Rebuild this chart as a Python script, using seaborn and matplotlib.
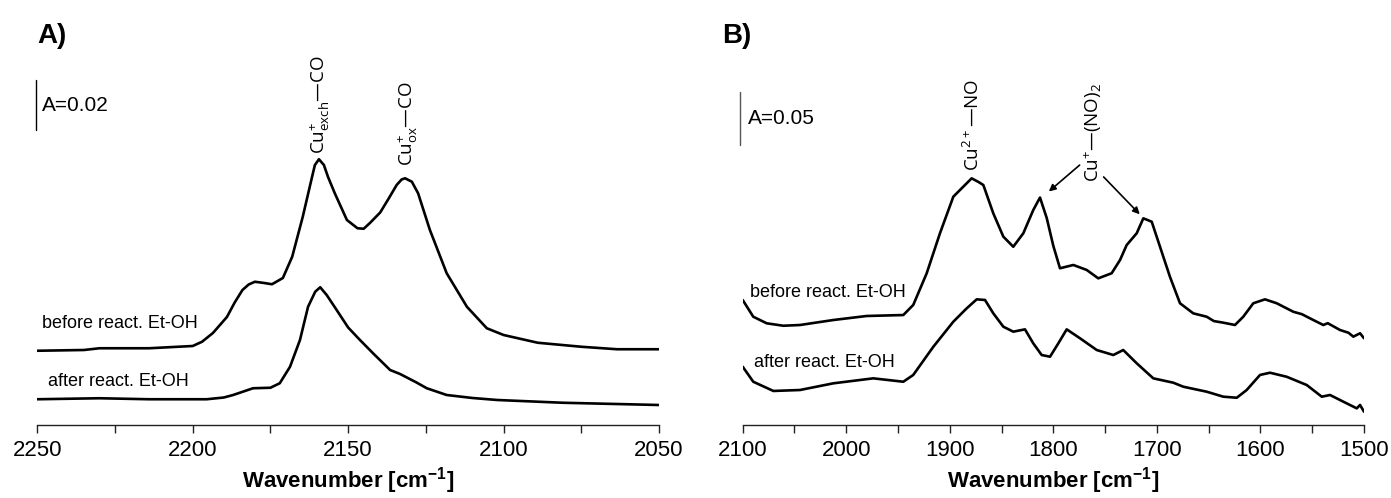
import matplotlib
matplotlib.use("Agg")
import matplotlib.pyplot as plt
from matplotlib import font_manager
from matplotlib.ticker import MultipleLocator
import numpy as np
import pandas as pd
import seaborn as sns

# ---------------- data ----------------
# Panel A: CO adsorption
a_before_wn = [2250, 2235, 2230, 2214, 2200, 2197, 2193.5, 2189, 2186.5, 2184, 2182, 2180, 2177,
               2174.5, 2171, 2168, 2164.6, 2161.6, 2160.7, 2159.4, 2157.8, 2156.5, 2154.3, 2150.4,
               2147, 2145, 2143, 2139.7, 2137, 2134.4, 2132.8, 2131.7, 2129.5, 2127.5, 2123.7,
               2118.3, 2111.8, 2105.4, 2100, 2089, 2075, 2063.5, 2050]
a_before_abs = [0.0297, 0.0300, 0.0307, 0.0307, 0.0316, 0.0333, 0.0368, 0.0432, 0.0490, 0.0540,
                0.0562, 0.0573, 0.0568, 0.0563, 0.0588, 0.0673, 0.0833, 0.0993, 0.1040, 0.1063,
                0.1040, 0.0993, 0.0927, 0.0820, 0.0787, 0.0785, 0.0808, 0.0850, 0.0905, 0.0960,
                0.0982, 0.0987, 0.0973, 0.0927, 0.0780, 0.0607, 0.0473, 0.0387, 0.0360, 0.0329,
                0.0313, 0.0303, 0.0303]

a_after_wn = [2250, 2230, 2214, 2195.5, 2190, 2187, 2180.6, 2175, 2172, 2168.7, 2165.5, 2162.9,
              2160.6, 2159, 2156.9, 2153.7, 2150, 2146.2, 2142, 2136.5, 2133.3, 2128, 2124.7,
              2118.3, 2110, 2102, 2081, 2050]
a_after_abs = [0.0103, 0.0107, 0.0103, 0.0103, 0.0110, 0.0120, 0.0147, 0.0149, 0.0167, 0.0233,
               0.0340, 0.0473, 0.0533, 0.0551, 0.0520, 0.0460, 0.0390, 0.0340, 0.0287, 0.0220,
               0.0204, 0.0170, 0.0147, 0.0120, 0.0108, 0.0100, 0.0089, 0.0080]

# Panel B: NO adsorption
b_before_wn = [2100, 2089.8, 2076.8, 2060.8, 2044.7, 2012.5, 1980.3, 1944.9, 1935.3, 1922.3,
               1909.5, 1896.6, 1887, 1878.9, 1872, 1867.6, 1858, 1848.3, 1838.7, 1829, 1819.4,
               1812.9, 1806.4, 1800, 1793.6, 1780.7, 1767.8, 1756.6, 1743.7, 1735.6, 1729.2,
               1719.5, 1713.1, 1705, 1697, 1687.4, 1677.7, 1664.9, 1651.9, 1645, 1635.9, 1624.6,
               1616.6, 1606.9, 1595.6, 1584.3, 1568.3, 1560, 1552.2, 1539.3, 1535, 1523.2, 1515,
               1510.3, 1503.8, 1500]
b_before_abs = [0.1179, 0.1021, 0.0959, 0.0936, 0.0943, 0.0990, 0.1028, 0.1037, 0.1132, 0.1431,
                0.1808, 0.2153, 0.2247, 0.2326, 0.2290, 0.2263, 0.1996, 0.1776, 0.1681, 0.1808,
                0.2027, 0.2145, 0.1952, 0.1688, 0.1478, 0.1509, 0.1462, 0.1383, 0.1431, 0.1556,
                0.1697, 0.1808, 0.1949, 0.1917, 0.1681, 0.1398, 0.1148, 0.1053, 0.1021, 0.0980,
                0.0965, 0.0943, 0.1021, 0.1148, 0.1185, 0.1148, 0.1068, 0.1045, 0.1006, 0.0943,
                0.0960, 0.0896, 0.0870, 0.0833, 0.0865, 0.0818]

b_after_wn = [2100, 2089.8, 2070.4, 2044.7, 2012.5, 1973.9, 1944.9, 1935.3, 1915.9, 1896.6,
              1883.7, 1874, 1866, 1858, 1848.3, 1838.7, 1827.4, 1819.4, 1811.3, 1803.2, 1795.2,
              1787.1, 1774.3, 1758.1, 1742.1, 1732.5, 1719.5, 1703.5, 1684.2, 1674.5, 1651.9,
              1635.9, 1622.9, 1613.3, 1600.4, 1590.8, 1574.7, 1555.3, 1540.8, 1532.8, 1520,
              1507, 1503.8, 1500]
b_after_abs = [0.0550, 0.0408, 0.0321, 0.0330, 0.0393, 0.0440, 0.0408, 0.0472, 0.0738, 0.0974,
               0.1100, 0.1185, 0.1179, 0.1053, 0.0927, 0.0880, 0.0902, 0.0770, 0.0660, 0.0644,
               0.0770, 0.0902, 0.0818, 0.0707, 0.0660, 0.0707, 0.0582, 0.0440, 0.0399, 0.0361,
               0.0314, 0.0267, 0.0257, 0.0330, 0.0472, 0.0493, 0.0455, 0.0377, 0.0267, 0.0283,
               0.0220, 0.0157, 0.0189, 0.0125]

series_labels = ["before react. Et-OH", "after react. Et-OH"]
panel_labels = ["A)", "B)"]
scale_labels = ["A=0.02", "A=0.05"]
xlabel = r"Wavenumber [cm$^{-1}$]"

# ---------------- style ----------------
sns.set_theme(style="white")
plt.rcParams["font.family"] = ["Liberation Sans", "DejaVu Sans"]
plt.rcParams["mathtext.default"] = "regular"
plt.rcParams["text.color"] = "black"
plt.rcParams["axes.labelcolor"] = "black"
plt.rcParams["xtick.color"] = "black"
plt.rcParams["xtick.labelcolor"] = "black"

avail = {f.name for f in font_manager.fontManager.ttflist}
narrow = "Liberation Sans Narrow" if "Liberation Sans Narrow" in avail else "Liberation Sans"
ann_font = "Open Sans" if "Open Sans" in avail else "DejaVu Sans"

W, H = 1391, 498
fig = plt.figure(figsize=(W / 100, H / 100), dpi=100)
fig.patch.set_facecolor("white")

bottom = (H - 425) / H
height = (425 - 20) / H
axA = fig.add_axes([37.3 / W, bottom, (659 - 37.3) / W, height])
axB = fig.add_axes([742.7 / W, bottom, (1364 - 742.7) / W, height])

LW = 1.9
for ax, wn1, ab1, wn2, ab2 in [(axA, a_before_wn, a_before_abs, a_after_wn, a_after_abs),
                               (axB, b_before_wn, b_before_abs, b_after_wn, b_after_abs)]:
    d1 = pd.DataFrame({"wn": wn1, "A": ab1})
    d2 = pd.DataFrame({"wn": wn2, "A": ab2})
    sns.lineplot(data=d1, x="wn", y="A", ax=ax, color="black", lw=LW, estimator=None)
    sns.lineplot(data=d2, x="wn", y="A", ax=ax, color="black", lw=LW, estimator=None)
    for s in ["left", "top", "right"]:
        ax.spines[s].set_visible(False)
    ax.spines["bottom"].set_color("#222222")
    ax.spines["bottom"].set_linewidth(1.0)
    ax.set_yticks([])
    ax.set_ylabel("")
    ax.tick_params(axis="x", which="both", direction="out", length=6, width=1.0,
                   color="#222222", bottom=True)
    ax.tick_params(axis="x", which="major", labelsize=16, pad=5, labelcolor="black")
    ax.set_xlabel(xlabel, fontsize=16, fontweight="bold", labelpad=3, color="black")
    ax.set_facecolor("none")

# Panel A axes
axA.set_xlim(2250, 2050)
axA.set_ylim(0, (425 - 20) * 0.0004)
axA.xaxis.set_major_locator(MultipleLocator(50))
axA.xaxis.set_minor_locator(MultipleLocator(25))

# Panel B axes
axB.set_xlim(2100, 1500)
axB.set_ylim(0, (425 - 20) * 0.000943)
axB.xaxis.set_major_locator(MultipleLocator(100))
axB.xaxis.set_minor_locator(MultipleLocator(50))

# panel letters
fig.text(37 / W, 1 - 36 / H, panel_labels[0], fontsize=20, fontweight="bold", va="center", ha="left")
fig.text(722 / W, 1 - 36 / H, panel_labels[1], fontsize=20, fontweight="bold", va="center", ha="left")

# scale bars
axA.plot([2250.5, 2250.5], [0.118, 0.138], color="black", lw=1.0, clip_on=False)
axA.text(2248.6, 0.128, scale_labels[0], fontsize=15, va="center", ha="left")
axB.plot([2102.6, 2102.6], [0.264, 0.314], color="#555555", lw=1.0, clip_on=False)
axB.text(2094.9, 0.2886, scale_labels[1], fontsize=15, va="center", ha="left", family=narrow)

# series labels
axA.text(2248.6, 0.0406, series_labels[0], fontsize=13, va="center", ha="left", family=narrow)
axA.text(2246.4, 0.0174, series_labels[1], fontsize=13, va="center", ha="left", family=narrow)
axB.text(2093.0, 0.1254, series_labels[0], fontsize=13, va="center", ha="left", family=narrow)
axB.text(2088.8, 0.0594, series_labels[1], fontsize=13, va="center", ha="left", family=narrow)

# peak annotations
axA.text(2159.0, 0.1085, r"Cu$^{+}_{exch}$—CO", rotation=90, fontsize=13.5, ha="center",
         va="bottom", family=ann_font)
axA.text(2130.7, 0.1035, r"Cu$^{+}_{ox}$—CO", rotation=90, fontsize=13.5, ha="center",
         va="bottom", family=ann_font)
axB.text(1877.6, 0.2395, r"Cu$^{2+}$—NO", rotation=90, fontsize=13.5, ha="center",
         va="bottom", family=ann_font)
axB.text(1761.7, 0.2290, r"Cu$^{+}$—(NO)$_{2}$", rotation=90, fontsize=13.5, ha="center",
         va="bottom", family=ann_font)
arrow_kw = dict(arrowstyle="-|>", color="black", lw=1.2, mutation_scale=10)
axB.annotate("", xy=(1806.4, 0.2185), xytext=(1772.6, 0.2468), arrowprops=arrow_kw)
axB.annotate("", xy=(1714.7, 0.1968), xytext=(1753.3, 0.2358), arrowprops=arrow_kw)

fig.savefig("out.png", dpi=100, facecolor="white")
